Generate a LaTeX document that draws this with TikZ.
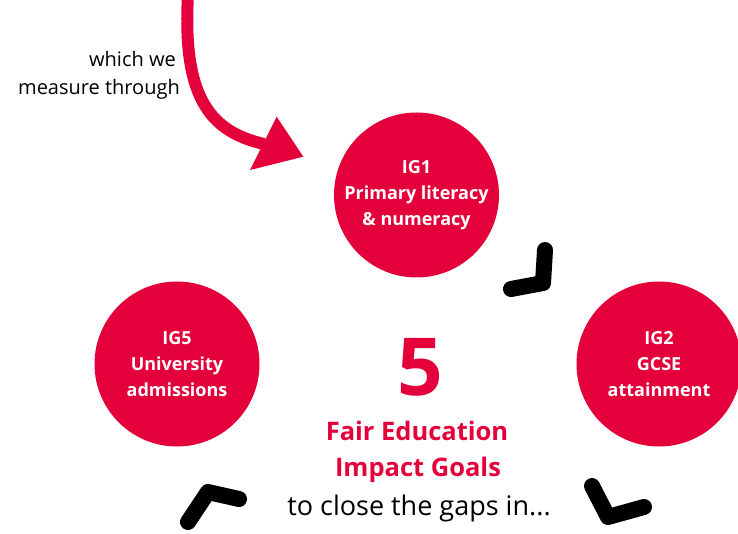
\documentclass[tikz,border=0pt]{standalone}
\usepackage{fontspec}
\setmainfont{Open Sans}
\definecolor{fered}{RGB}{228,0,58}
\begin{document}
\begin{tikzpicture}[x=1pt,y=-1pt,
  goal/.style={circle,fill=fered,minimum size=165pt,inner sep=0pt,text=white,align=center,
    font=\bfseries\fontsize{18}{26}\selectfont},
  chev/.style={line width=16pt,line cap=round,line join=round,black},
  redarrow/.style={line width=12pt,fered},
  redhead/.style={fill=fered},
  plaintxt/.style={text=black,inner sep=0pt},
  redtxt/.style={text=fered,inner sep=0pt,font=\bfseries\fontsize{25.5}{25.5}\selectfont}]
\useasboundingbox (0,0) rectangle (738,534);
% goals
\node[goal] (ig1) at (416.5,195) {IG1\\Primary literacy\\\& numeracy};
\node[goal] (ig5) at (177,364) {IG5\\University\\admissions};
\node[goal] (ig2) at (659,364) {IG2\\GCSE\\attainment};
% centre text
\node[anchor=base,text=fered,inner sep=0pt,font=\bfseries\fontsize{80}{80}\selectfont] (five) at (420,395) {5};
\node[anchor=base,redtxt] (fair) at (417,440) {Fair Education};
\node[anchor=base,redtxt] (impact) at (418,476.7) {Impact Goals};
\node[anchor=base,plaintxt,font=\fontsize{27}{27}\selectfont] (close) at (419,515) {to close the gaps in...};
% side text
\node[anchor=base east,plaintxt,font=\fontsize{20}{20}\selectfont] (which) at (176,66.7) {which we};
\node[anchor=base east,plaintxt,font=\fontsize{20}{20}\selectfont] (measure) at (180,95) {measure through};
% red arrow
\coordinate (as) at (188,-5);
\coordinate (ae) at (264,144);
\draw[redarrow] (as) .. controls (182,100) and (212,132) .. (ae);
\coordinate (h1) at (276.7,116.7);
\coordinate (h2) at (303.3,156.7);
\coordinate (h3) at (250,170);
\fill[redhead] (h1) -- (h2) -- (h3) -- cycle;
% chevrons
\coordinate (c1a) at (545,250);
\coordinate (c1b) at (543,283);
\coordinate (c1c) at (511,289);
\draw[chev] (c1a) -- (c1b) -- (c1c);
\coordinate (c2a) at (188,522);
\coordinate (c2b) at (208,492);
\coordinate (c2c) at (239,499);
\draw[chev] (c2a) -- (c2b) -- (c2c);
\coordinate (c3a) at (592,486);
\coordinate (c3b) at (608,517);
\coordinate (c3c) at (644,507);
\draw[chev] (c3a) -- (c3b) -- (c3c);
\end{tikzpicture}
\end{document}
